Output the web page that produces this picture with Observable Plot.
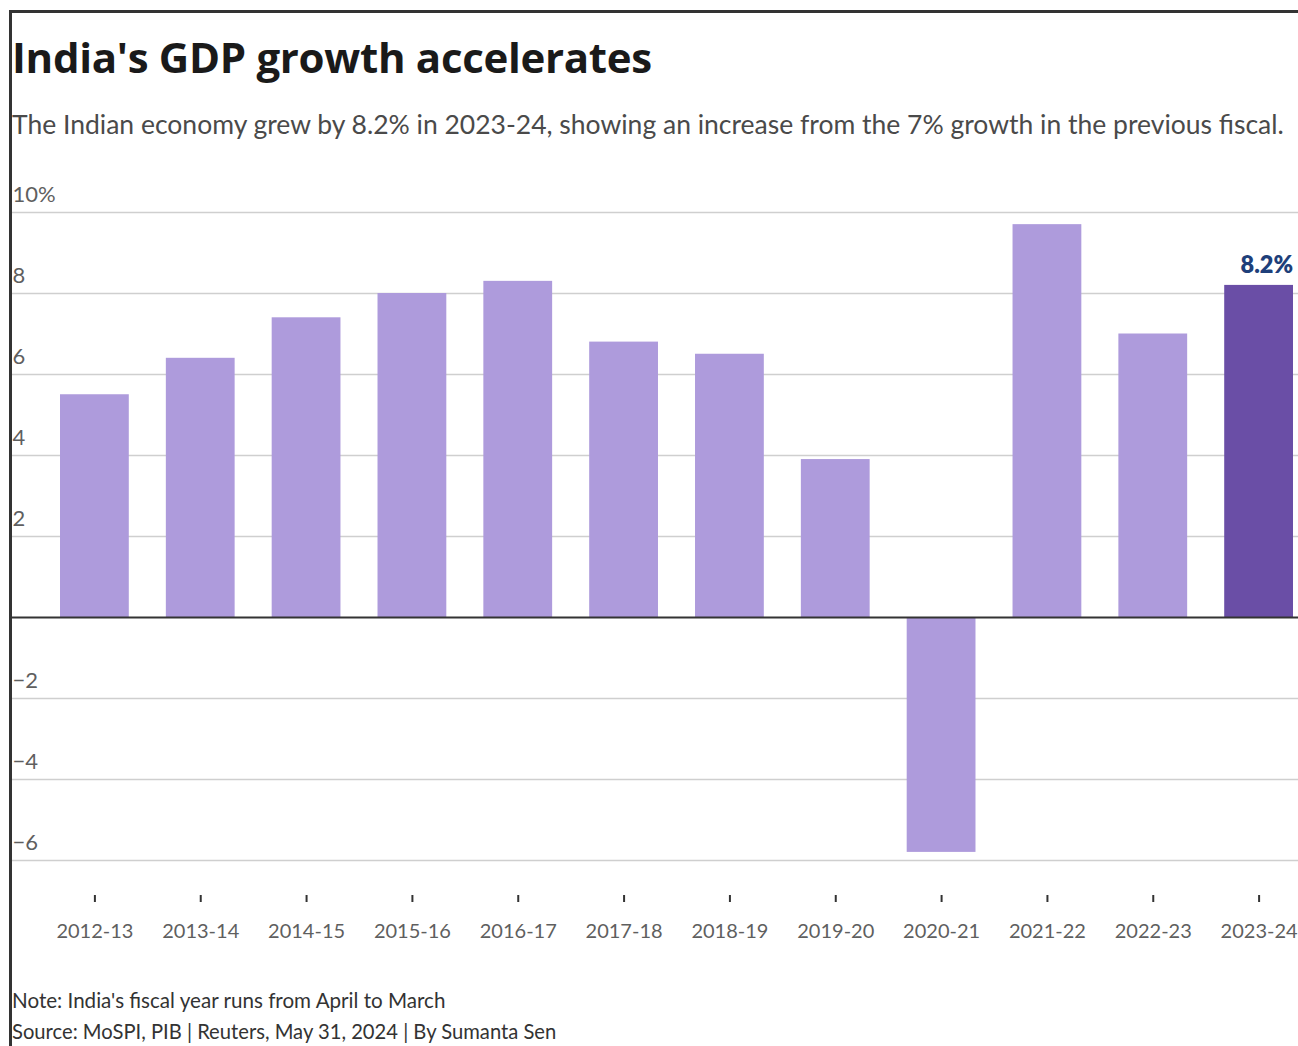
<!DOCTYPE html>
<html>
<head>
<meta charset="utf-8">
<script src="https://cdn.jsdelivr.net/npm/d3@7"></script>
<script src="https://cdn.jsdelivr.net/npm/@observablehq/plot@0.6"></script>
<style>
  html, body { margin: 0; padding: 0; background: #fff; }
  body { width: 1298px; height: 1046px; position: relative; overflow: hidden; font-family: Lato, "Noto Sans", sans-serif; }
  #frame { position: absolute; left: 9px; top: 10px; right: -10px; bottom: -10px; border-top: 3px solid #333; border-left: 3px solid #333; }
  #title { position: absolute; left: 12px; top: 30px; font-family: "Open Sans", Lato, sans-serif; font-size: 42px; font-weight: 700; color: #1a1a1a; line-height: 54px; white-space: nowrap; letter-spacing: -0.3px; }
  #subtitle { position: absolute; left: 12px; top: 107px; font-size: 26.5px; color: #4a4a4a; line-height: 34px; white-space: nowrap; }
  #chart { position: absolute; left: 0; top: 150px; }
  #note { position: absolute; left: 12px; top: 986px; font-size: 20.6px; color: #333; line-height: 28px; white-space: nowrap; }
  #source { position: absolute; left: 12px; top: 1017px; font-size: 20.2px; color: #333; line-height: 28px; white-space: nowrap; }
</style>
</head>
<body>
<div id="frame"></div>
<div id="title">India's GDP growth accelerates</div>
<div id="subtitle">The Indian economy grew by 8.2% in 2023-24, showing an increase from the 7% growth in the previous fiscal.</div>
<div id="chart"></div>
<div id="note">Note: India's fiscal year runs from April to March</div>
<div id="source">Source: MoSPI, PIB | Reuters, May 31, 2024 | By Sumanta Sen</div>
<script>
const years = ["2012-13","2013-14","2014-15","2015-16","2016-17","2017-18","2018-19","2019-20","2020-21","2021-22","2022-23","2023-24"];
const growth = [5.5, 6.4, 7.4, 8.0, 8.3, 6.8, 6.5, 3.9, -5.8, 9.7, 7.0, 8.2];
const yTicks = [-6, -4, -2, 0, 2, 4, 6, 8, 10];
const highlightYear = "2023-24";
const highlightLabel = "8.2%";

const data = years.map((y, i) => ({year: y, value: growth[i]}));
const fmt = d => d === 10 ? "10%" : (d < 0 ? "\u2212" + Math.abs(d) : String(d));

const chart = Plot.plot({
  width: 1298,
  height: 800,
  marginTop: 62,
  marginBottom: 90,
  marginLeft: 60,
  marginRight: 5,
  style: {fontFamily: "Lato, 'Noto Sans', sans-serif", background: "transparent"},
  x: {domain: years, paddingInner: 0.35, paddingOuter: 0, round: false, label: null},
  y: {domain: [-6, 10], label: null, axis: null},
  marks: [
    Plot.ruleY(yTicks.filter(d => d !== 0), {stroke: "#cfcfcf", strokeWidth: 1.5, insetLeft: -48, insetRight: -5}),
    Plot.text(yTicks.filter(d => d !== 0), {y: d => d, text: fmt, frameAnchor: "left", textAnchor: "start", lineAnchor: "bottom", dx: -48, dy: -11, fontSize: 22, fill: "#5f5f5f"}),
    Plot.barY(data, {x: "year", y: "value", fill: d => d.year === highlightYear ? "#6a4ea6" : "#ae9bdc"}),
    Plot.ruleY([0], {stroke: "#333", strokeWidth: 2, insetLeft: -48, insetRight: -5}),
    Plot.text(data.filter(d => d.year === highlightYear), {x: "year", y: "value", text: () => highlightLabel, textAnchor: "end", lineAnchor: "bottom", dx: 34, dy: -12, fontSize: 23.5, fontWeight: 800, fill: "#1e3f7a"}),
    Plot.axisX({anchor: "bottom", tickSize: 7, tickPadding: 21, dy: 35, fontSize: 20, color: "#5f5f5f", stroke: "#333", strokeWidth: 2, label: null})
  ]
});
document.getElementById("chart").appendChild(chart);
</script>
</body>
</html>
